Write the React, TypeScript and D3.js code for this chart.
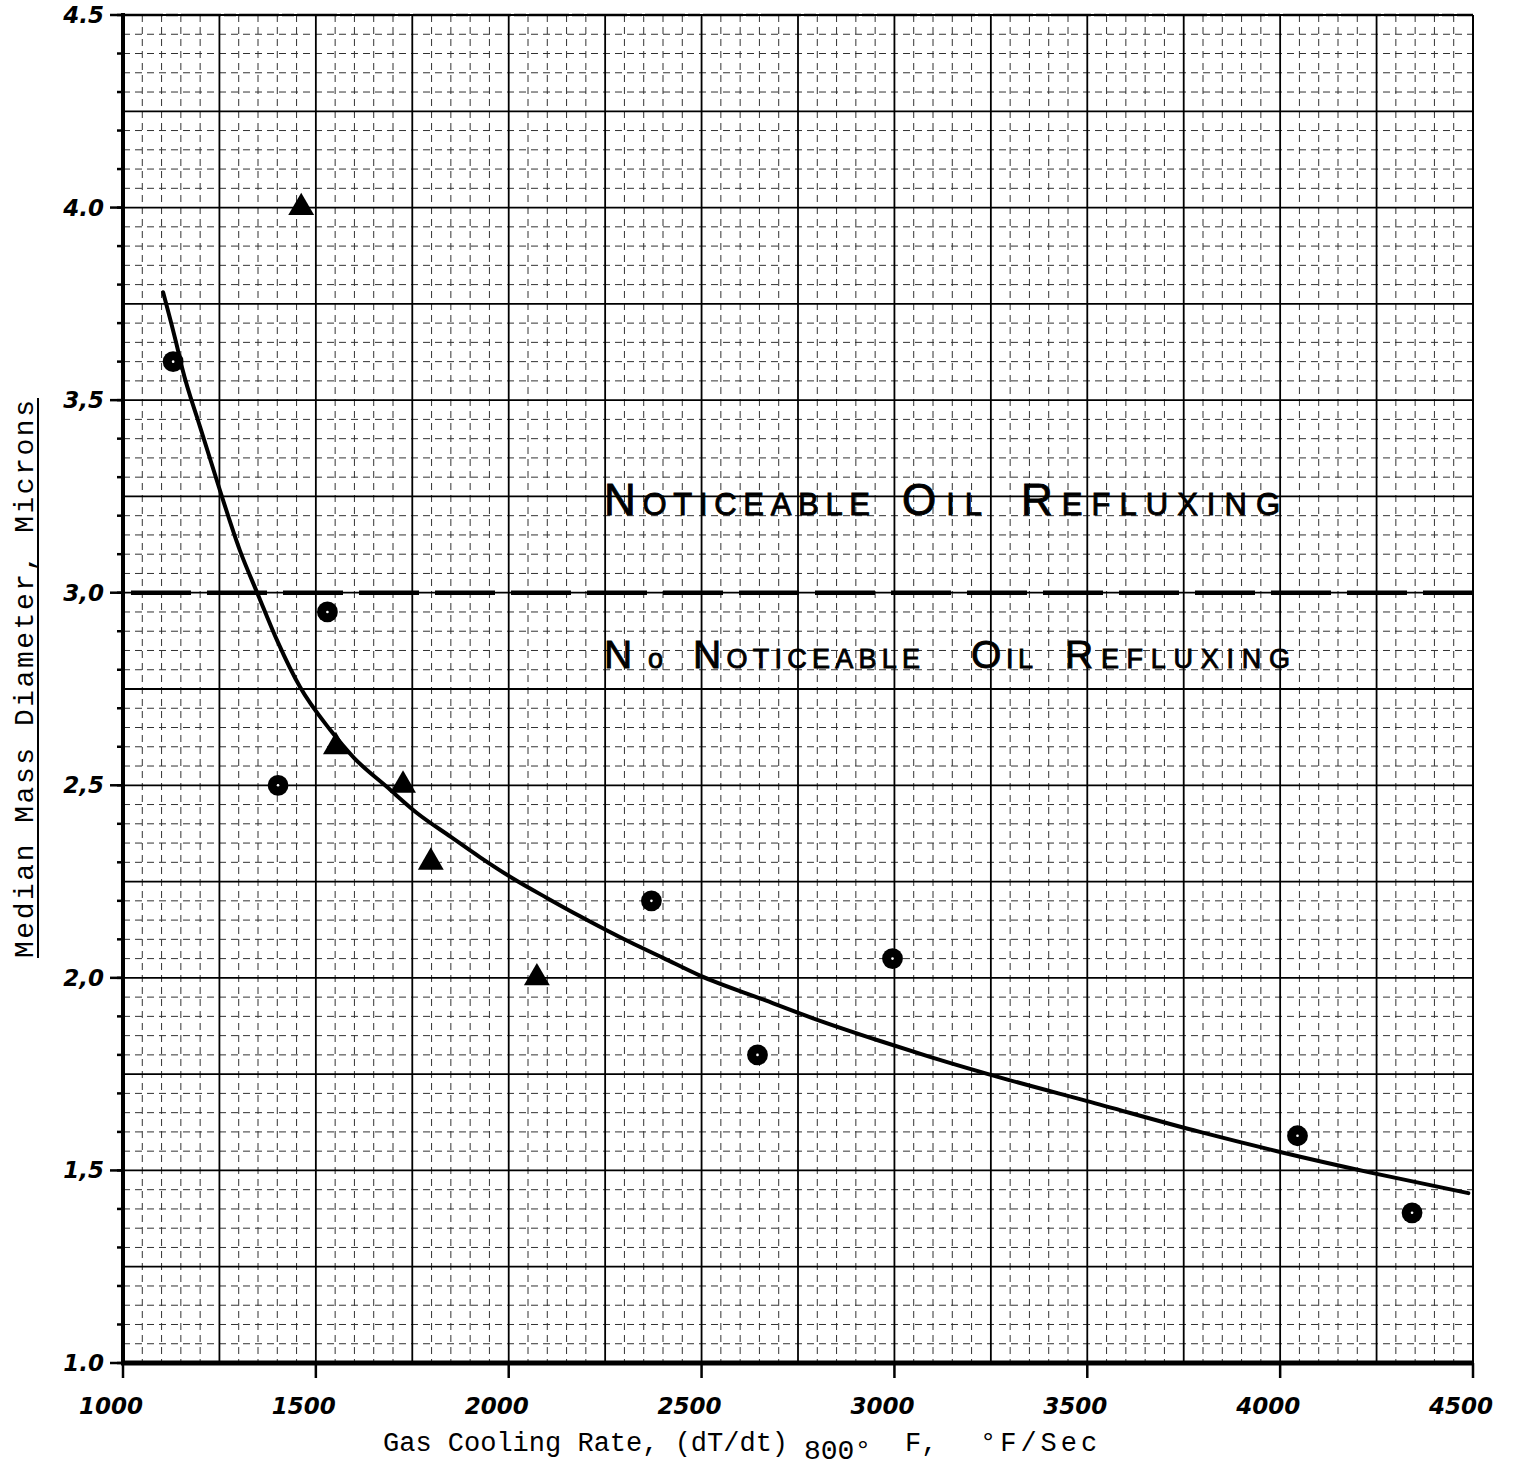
import React from 'react';
import * as d3 from 'd3';

// Cooling-rate vs. median mass diameter, drawn on graph-paper style grid.
const W = 1513;
const H = 1468;

const xTickValues = [1000, 1500, 2000, 2500, 3000, 3500, 4000, 4500];
const xTickLabels = ['1000', '1500', '2000', '2500', '3000', '3500', '4000', '4500'];
const yTickValues = [1.0, 1.5, 2.0, 2.5, 3.0, 3.5, 4.0, 4.5];
const yTickLabels = ['1.0', '1,5', '2,0', '2,5', '3,0', '3,5', '4.0', '4.5'];

// Measured samples (circles)
const circleRates = [1130, 1402, 1530, 2370, 2645, 2995, 4045, 4342];
const circleDiameters = [3.6, 2.5, 2.95, 2.2, 1.8, 2.05, 1.59, 1.39];

// Measured samples (triangles)
const triangleRates = [1462, 1552, 1726, 1798, 2073];
const triangleDiameters = [4.0, 2.6, 2.5, 2.3, 2.0];

// Hand-faired trend curve
const curveRates = [1104, 1140, 1153, 1200, 1250, 1303, 1350, 1400, 1459, 1537, 1600, 1684, 1762, 1850, 1926, 2011, 2100, 2185, 2314, 2400, 2496, 2659, 2789, 2963, 3092, 3300, 3500, 3792, 4000, 4241, 4488];
const curveDiameters = [3.78, 3.64, 3.585, 3.43, 3.27, 3.11, 2.995, 2.875, 2.755, 2.644, 2.57, 2.496, 2.428, 2.366, 2.313, 2.258, 2.207, 2.16, 2.093, 2.052, 2.006, 1.944, 1.895, 1.836, 1.795, 1.734, 1.68, 1.6, 1.548, 1.493, 1.441];

// Refluxing threshold
const refluxThreshold = 3.0;

const upperNote = ['NOTICEABLE', 'OIL', 'REFLUXING'];
const lowerNote = ['No', 'NOTICEABLE', 'OIL', 'REFLUXING'];

const xScale = d3.scaleLinear().domain([1000, 4500]).range([123, 1473]);
const yScale = d3.scaleLinear().domain([1, 4.5]).range([1363, 15]);

const handFont = '"DejaVu Sans", sans-serif';
const letterFont = '"Liberation Sans", Arial, sans-serif';
const typeFont = '"Liberation Mono", "DejaVu Sans Mono", monospace';

function Word({ text, x, y, width, big, small }: { text: string; x: number; y: number; width: number; big: number; small: number }) {
  return (
    <text x={x} y={y} textLength={width} lengthAdjust="spacing" fontFamily={letterFont} fill="#000" stroke="#000" strokeWidth={0.9}>
      <tspan fontSize={big}>{text[0]}</tspan>
      <tspan fontSize={small}>{text.slice(1)}</tspan>
    </text>
  );
}

export default function App() {
  const [x0, x1] = xScale.range();
  const [y0, y1] = yScale.range();

  const xMinor = d3.range(0, 71).map((i) => ({ v: 1000 + i * 50, major: i % 5 === 0 }));
  const yMinor = d3.range(0, 71).map((i) => ({ v: 1 + i * 0.05, major: i % 5 === 0 }));
  const yTicksSmall = d3.range(0, 36).map((i) => 1 + i * 0.1);

  const line = d3
    .line<number>()
    .x((_, i) => xScale(curveRates[i]))
    .y((d) => yScale(d))
    .curve(d3.curveMonotoneX);

  const triPath = d3.symbol().type(d3.symbolTriangle).size(290)() as string;
  const circPath = d3.symbol().type(d3.symbolCircle).size(340)() as string;

  const upperX = [[604, 266], [902, 80], [1021, 259]];
  const lowerX = [[604, 59], [693, 227], [971, 62], [1065, 225]];

  return (
    <svg width={W} height={H} viewBox={`0 0 ${W} ${H}`} style={{ position: 'absolute', left: 0, top: 0, background: '#fff' }}>
      <rect x={0} y={0} width={W} height={H} fill="#fff" />

      {/* minor grid */}
      <g stroke="#000" strokeWidth={1} strokeDasharray="7 5" opacity={0.8}>
        {xMinor.filter((d) => !d.major).map((d) => (
          <line key={`xm${d.v}`} x1={xScale(d.v)} x2={xScale(d.v)} y1={y1} y2={y0} />
        ))}
        {yMinor.filter((d) => !d.major).map((d) => (
          <line key={`ym${d.v.toFixed(2)}`} x1={x0} x2={x1} y1={yScale(d.v)} y2={yScale(d.v)} />
        ))}
      </g>

      {/* major grid */}
      <g stroke="#000" strokeWidth={1.8}>
        {xMinor.filter((d) => d.major).map((d) => (
          <line key={`xM${d.v}`} x1={xScale(d.v)} x2={xScale(d.v)} y1={y1} y2={y0} />
        ))}
        {yMinor.filter((d) => d.major).map((d) => (
          <line key={`yM${d.v.toFixed(2)}`} x1={x0} x2={x1} y1={yScale(d.v)} y2={yScale(d.v)} />
        ))}
      </g>

      {/* frame */}
      <line x1={x0} x2={x1} y1={y1} y2={y1} stroke="#000" strokeWidth={2.5} strokeDasharray="40 3 12 3" />
      <line x1={x1} x2={x1} y1={y1} y2={y0} stroke="#000" strokeWidth={2} />
      <line x1={x0} x2={x0} y1={y1 - 2} y2={y0 + 2} stroke="#000" strokeWidth={4} />
      <line x1={x0 - 2} x2={x1} y1={y0} y2={y0} stroke="#000" strokeWidth={5} />

      {/* y ticks */}
      <g stroke="#000" strokeWidth={2.5}>
        {yTicksSmall.map((v) => (
          <line key={`yt${v.toFixed(1)}`} x1={x0 - 6} x2={x0} y1={yScale(v)} y2={yScale(v)} />
        ))}
        {yTickValues.map((v) => (
          <line key={`yT${v}`} x1={x0 - 13} x2={x0} y1={yScale(v)} y2={yScale(v)} />
        ))}
      </g>
      {yTickValues.map((v, i) => (
        <text key={`yl${v}`} x={104} y={yScale(v) + 8} textAnchor="end" fontFamily={handFont} fontStyle="italic" fontWeight="bold" fontSize={23} fill="#000">
          {yTickLabels[i]}
        </text>
      ))}

      {/* x ticks */}
      <g stroke="#000" strokeWidth={2.5}>
        {xTickValues.map((v) => (
          <line key={`xt${v}`} x1={xScale(v)} x2={xScale(v)} y1={y0} y2={y0 + 15} />
        ))}
      </g>
      {xTickValues.map((v, i) => (
        <text key={`xl${v}`} x={xScale(v) - 12} y={1414} textAnchor="middle" fontFamily={handFont} fontStyle="italic" fontWeight="bold" fontSize={23} fill="#000">
          {xTickLabels[i]}
        </text>
      ))}

      {/* threshold */}
      <line x1={x0} x2={x1} y1={yScale(refluxThreshold)} y2={yScale(refluxThreshold)} stroke="#000" strokeWidth={4.5} strokeDasharray="60 16" strokeDashoffset={-8} />

      {/* annotations */}
      {upperNote.map((w, i) => (
        <Word key={`u${i}`} text={w} x={upperX[i][0]} y={515} width={upperX[i][1]} big={44} small={31} />
      ))}
      {lowerNote.map((w, i) => (
        <Word key={`l${i}`} text={w} x={lowerX[i][0]} y={668} width={lowerX[i][1]} big={39} small={27} />
      ))}

      {/* trend curve */}
      <path d={line(curveDiameters) as string} fill="none" stroke="#000" strokeWidth={4} strokeLinecap="round" />

      {/* markers */}
      {circleRates.map((r, i) => (
        <g key={`c${i}`} transform={`translate(${xScale(r)},${yScale(circleDiameters[i])})`}>
          <path d={circPath} fill="#000" />
          <circle r={1.3} fill="#fff" />
        </g>
      ))}
      {triangleRates.map((r, i) => (
        <path key={`t${i}`} d={triPath} transform={`translate(${xScale(r)},${yScale(triangleDiameters[i])})`} fill="#000" />
      ))}

      {/* axis titles */}
      <text fontFamily={typeFont} fontSize={27} fill="#000">
        <tspan x={383} y={1451}>Gas Cooling Rate, (dT/dt)</tspan>
        <tspan x={804} y={1459} fontSize={28}>800°</tspan>
        <tspan x={905} y={1451}>F,</tspan>
        <tspan x={980} y={1451} letterSpacing={4}>°F/Sec</tspan>
      </text>
      <text transform="translate(33,679) rotate(-90)" textAnchor="middle" fontFamily={typeFont} fontSize={28} textLength={558} lengthAdjust="spacing" fill="#000">
        Median Mass Diameter, Microns
      </text>
      <line x1={38} x2={38} y1={398} y2={958} stroke="#000" strokeWidth={2} />
    </svg>
  );
}
